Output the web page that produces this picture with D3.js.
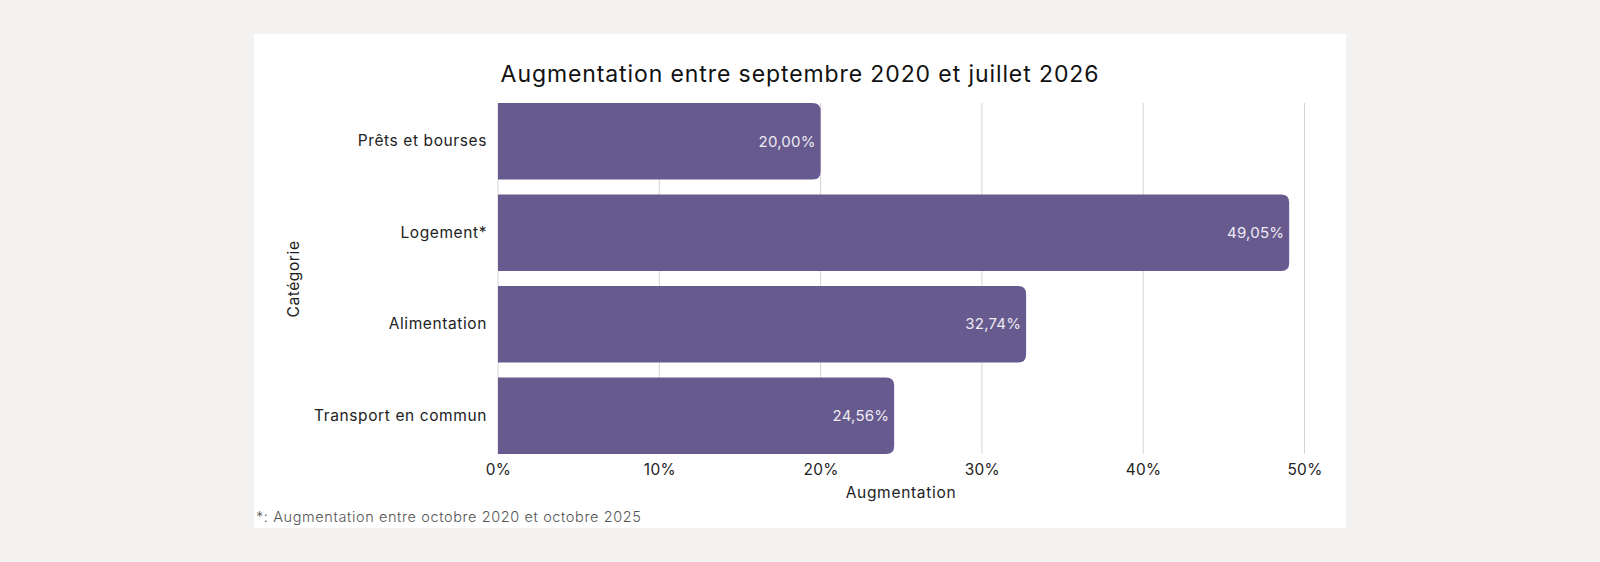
<!DOCTYPE html>
<html><head><meta charset="utf-8">
<script src="https://cdn.jsdelivr.net/npm/d3@7"></script>
<style>
html,body{margin:0;padding:0;background:#f3f2f0;}
svg{display:block;font-family:"Inter","Open Sans",sans-serif;}
</style></head>
<body>
<svg id="chart" width="1600" height="562"></svg>
<script>
const categories = ["Prêts et bourses","Logement*","Alimentation","Transport en commun"];
const values = [20.00, 49.05, 32.74, 24.56];
const tickValues = [0,10,20,30,40,50];
const title = "Augmentation entre septembre 2020 et juillet 2026";
const xTitle = "Augmentation";
const yTitle = "Catégorie";
const footnote = "*: Augmentation entre octobre 2020 et octobre 2025";

const svg = d3.select("#chart");
svg.append("rect").attr("x",254).attr("y",34).attr("width",1092).attr("height",494).attr("fill","#ffffff");

const m = {left:498, right:1304.5, top:103, bottom:454};
const x = d3.scaleLinear().domain([0,50]).range([m.left,m.right]);
const y = d3.scaleBand().domain(categories).range([m.top,m.bottom]).paddingInner(0.1636).paddingOuter(0);

// grid
svg.append("g").selectAll("line").data(tickValues).join("line")
  .attr("x1",d=>x(d)).attr("x2",d=>x(d)).attr("y1",m.top).attr("y2",m.bottom)
  .attr("stroke","#d4d4d4").attr("stroke-width",1);

// bars with right rounded corners
const r = 8;
function barPath(d,i){
  const x0 = x(0), x1 = x(d), y0 = y(categories[i]), h = y.bandwidth();
  return `M${x0},${y0}H${x1-r}Q${x1},${y0} ${x1},${y0+r}V${y0+h-r}Q${x1},${y0+h} ${x1-r},${y0+h}H${x0}Z`;
}
svg.append("g").selectAll("path").data(values).join("path")
  .attr("d",barPath).attr("fill","#675a8f");

// value labels
svg.append("g").selectAll("text").data(values).join("text")
  .attr("x",d=>x(d)-5).attr("y",(d,i)=>y(categories[i])+y.bandwidth()/2)
  .attr("dy","0.35em").attr("text-anchor","end")
  .attr("fill","#eeebf3").attr("font-size",15).attr("letter-spacing",0.2)
  .text(d=>d3.format(".2f")(d).replace(".",",")+"%");

// x axis
const xAxis = d3.axisBottom(x).tickValues(tickValues).tickFormat(d=>d+"%").tickSize(0).tickPadding(10);
const gx = svg.append("g").attr("transform",`translate(0,${m.bottom})`).call(xAxis);
gx.select(".domain").remove();
gx.selectAll("text").attr("font-size",15.4).attr("fill","#222").attr("font-family","Inter, sans-serif").attr("letter-spacing",0.3);

// y axis
const yAxis = d3.axisLeft(y).tickSize(0).tickPadding(11);
const gy = svg.append("g").attr("transform",`translate(${m.left},0)`).call(yAxis);
gy.select(".domain").remove();
gy.selectAll("text").attr("font-size",15.5).attr("fill","#222").attr("font-family","Inter, sans-serif").attr("letter-spacing",0.6);

// titles
svg.append("text").attr("x",800).attr("y",82).attr("text-anchor","middle")
  .attr("font-size",23).attr("letter-spacing",0.9).attr("fill","#111").text(title);
svg.append("text").attr("x",901).attr("y",498).attr("text-anchor","middle")
  .attr("font-size",15.5).attr("letter-spacing",0.7).attr("fill","#222").text(xTitle);
svg.append("text").attr("transform","translate(299,279) rotate(-90)").attr("text-anchor","middle")
  .attr("font-size",15.5).attr("letter-spacing",0.6).attr("fill","#222").text(yTitle);
svg.append("text").attr("x",256).attr("y",522)
  .attr("font-size",14.5).attr("letter-spacing",0.6).attr("font-weight",300).attr("fill","#555").text(footnote);
</script>
</body></html>
